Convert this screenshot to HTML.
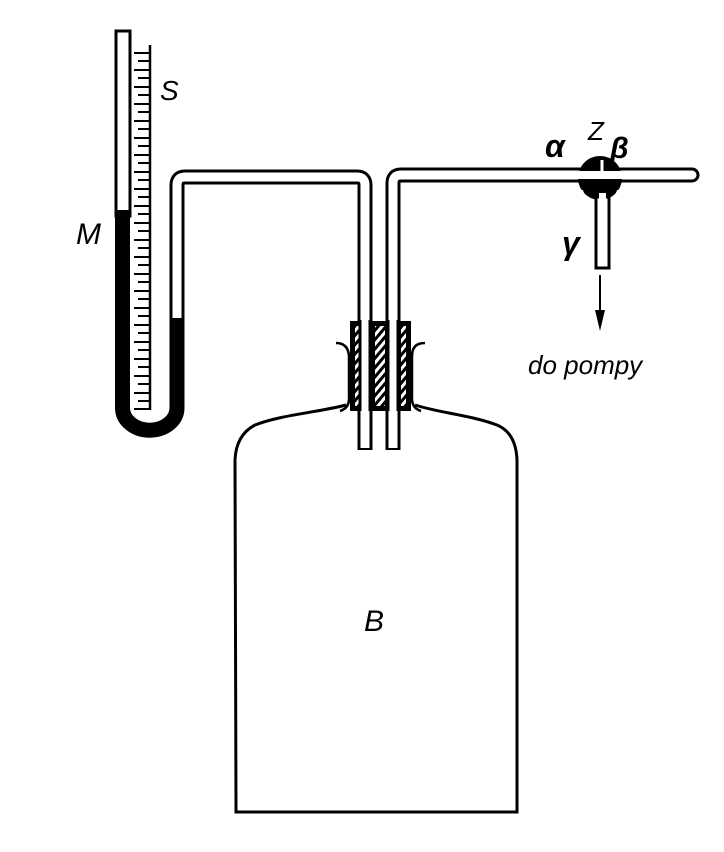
<!DOCTYPE html>
<html><head><style>
html,body{margin:0;padding:0;background:#fff;}
svg{display:block;}
text{font-family:"Liberation Sans",sans-serif;font-style:italic;fill:#000;}
</style></head><body>
<svg width="724" height="852" viewBox="0 0 724 852" xmlns="http://www.w3.org/2000/svg">
<defs>
<pattern id="h" width="6" height="6" patternUnits="userSpaceOnUse" patternTransform="rotate(-50)">
<rect width="6" height="6" fill="#fff"/><rect width="6" height="3" fill="#000"/>
</pattern>
</defs>
<rect x="116" y="31" width="14" height="185" fill="#fff" stroke="#000" stroke-width="3"/>
<path d="M122.5,210 V408 A27,22 0 0 0 177,408 V315" fill="none" stroke="#000" stroke-width="15"/>
<line x1="150" y1="45" x2="150" y2="410" stroke="#000" stroke-width="2.5"/>
<g stroke="#000" stroke-width="2">
<path d="M134,53H150M138,61H150M134,70H150M138,78H150M134,87H150M138,95H150M134,104H150M138,112H150M134,121H150M138,129H150M134,138H150M138,146H150M134,155H150M138,163H150M134,172H150M138,180H150M134,189H150M138,197H150M134,206H150M138,214H150M134,223H150M138,231H150M134,240H150M138,248H150M134,257H150M138,265H150M134,274H150M138,282H150M134,291H150M138,299H150M134,308H150M138,316H150M134,325H150M138,333H150M134,342H150M138,350H150M134,359H150M138,367H150M134,376H150M138,384H150M134,393H150M138,401H150M134,409H150"/>
</g>
<path d="M177,316 V185 Q177,177 185,177 H357 Q365,177 365,185 V450" fill="none" stroke="#000" stroke-width="15"/>
<path d="M177,318 V185 Q177,177 185,177 H357 Q365,177 365,185 V448" fill="none" stroke="#fff" stroke-width="9"/>
<path d="M393,450 V183 Q393,175 401,175 H692" fill="none" stroke="#000" stroke-width="15"/>
<path d="M692,167.5 A7.5,7.5 0 0 1 692,182.5 Z" fill="#000"/>
<path d="M393,448 V183 Q393,175 401,175 H692" fill="none" stroke="#fff" stroke-width="9"/>
<path d="M692,170.5 A4.5,4.5 0 0 1 692,179.5 Z" fill="#fff"/>
<!-- stopcock -->
<circle cx="600" cy="178" r="22" fill="#000"/>
<path d="M582,190 A19,19 0 0 0 618,190" fill="none" stroke="#fff" stroke-width="1.5"/>
<line x1="578" y1="175" x2="622" y2="175" stroke="#fff" stroke-width="8"/>
<line x1="602" y1="160" x2="602" y2="175" stroke="#fff" stroke-width="3"/>
<rect x="596" y="197" width="13" height="71" fill="#fff" stroke="#000" stroke-width="3"/>
<line x1="602.5" y1="193" x2="602.5" y2="200" stroke="#fff" stroke-width="7"/>
<line x1="600" y1="275" x2="600" y2="315" stroke="#000" stroke-width="2"/>
<path d="M595,310 L600,331 L605,310 Z" fill="#000"/>
<!-- bottle -->
<path d="M346,405 C320,412 280,415 255,425 Q236,435 235,460 L236,812 L517,812 L517,460 Q516,433 497,425 C470,415 440,413 415,405" fill="none" stroke="#000" stroke-width="3"/>
<path d="M336,343 Q348,343 349,356 L349,396 Q350,408 340,411" fill="none" stroke="#000" stroke-width="2.5"/>
<path d="M425,343 Q412,343 412,356 L412,396 Q411,408 421,411" fill="none" stroke="#000" stroke-width="2.5"/>
<rect x="350" y="321" width="61" height="90" fill="#000"/>
<rect x="355" y="326" width="5" height="80" fill="url(#h)"/>
<rect x="375" y="326" width="10" height="80" fill="url(#h)"/>
<rect x="401" y="326" width="5" height="80" fill="url(#h)"/>
<line x1="365" y1="320" x2="365" y2="411" stroke="#fff" stroke-width="9"/>
<line x1="393" y1="320" x2="393" y2="411" stroke="#fff" stroke-width="9"/>
<line x1="360" y1="320" x2="360" y2="411" stroke="#000" stroke-width="3"/>
<line x1="370" y1="320" x2="370" y2="411" stroke="#000" stroke-width="3"/>
<line x1="388" y1="320" x2="388" y2="411" stroke="#000" stroke-width="3"/>
<line x1="398" y1="320" x2="398" y2="411" stroke="#000" stroke-width="3"/>
<text x="160" y="100" font-size="28">S</text>
<text x="76" y="244" font-size="30">M</text>
<text x="588" y="140" font-size="26">Z</text>
<text x="545" y="157" font-size="32" font-weight="bold">α</text>
<text x="610" y="158" font-size="30" font-weight="bold">β</text>
<text x="562" y="254" font-size="32" font-weight="bold">γ</text>
<text x="528" y="374" font-size="26">do pompy</text>
<text x="364" y="631" font-size="30">B</text>
</svg>
</body></html>
